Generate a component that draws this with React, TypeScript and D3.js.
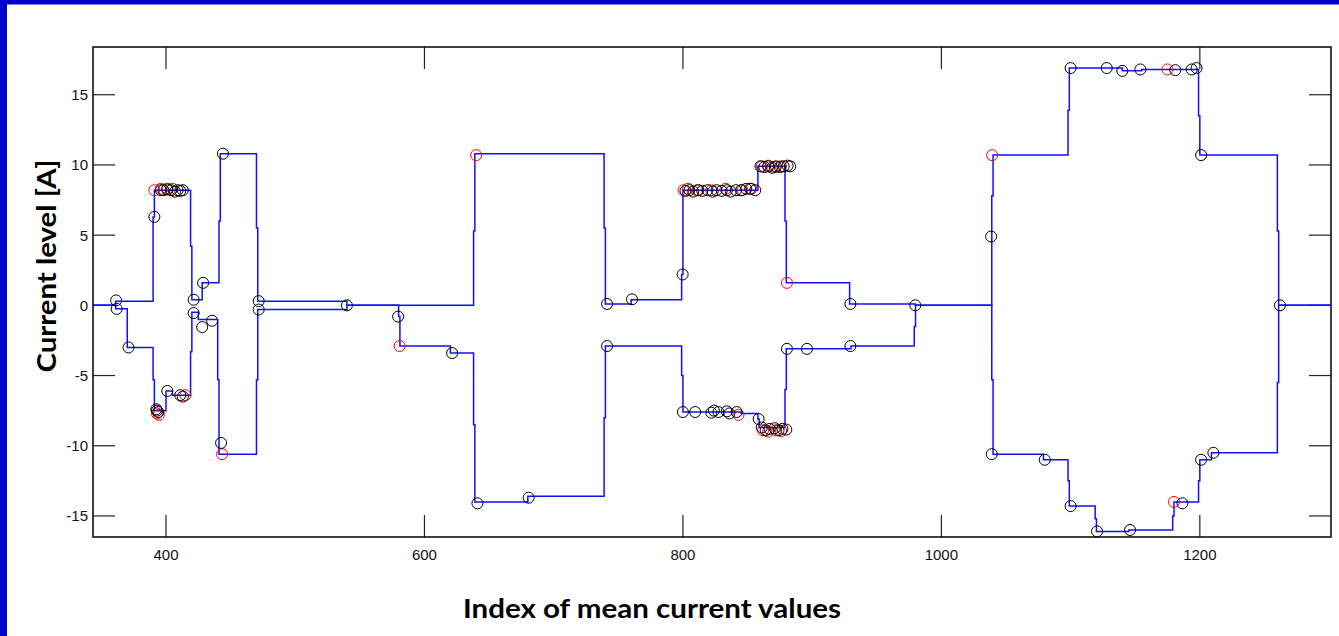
import React from "react";
import * as d3 from "d3";

// step traces (index, current) - upper and lower envelopes
const upperIdx = [343.5, 361, 390, 391, 419, 420, 428, 441, 442, 470, 471, 540, 638, 639, 739, 740, 760, 799, 800, 858, 879, 880, 929, 980, 1039, 1040, 1098, 1099, 1140, 1155, 1199, 1200, 1260, 1261, 1301.5];
const upperVal = [0, 0.3, 6.3, 8.2, 4.2, 0.4, 1.6, 6.0, 10.8, 5.5, 0.3, 0, 5.3, 10.8, 5.5, 0.1, 0.4, 2.2, 8.2, 9.9, 6.0, 1.6, 0.1, 0, 7.8, 10.7, 13.9, 16.9, 16.7, 16.8, 13.5, 10.7, 5.3, 0, 0];

const lowerIdx = [343.5, 361, 370, 390, 391, 400, 405, 419, 420, 425, 440, 441, 470, 471, 540, 580, 581, 620, 638, 639, 680, 739, 740, 799, 800, 845, 858, 859, 879, 880, 930, 979, 980, 1039, 1040, 1079, 1098, 1099, 1119, 1120, 1145, 1179, 1180, 1199, 1200, 1209, 1260, 1261, 1301.5];
const lowerVal = [0, -0.25, -3.0, -5.3, -7.5, -6.1, -6.4, -3.3, -0.5, -1.0, -5.3, -10.6, -5.3, -0.3, 0, -0.8, -2.9, -3.4, -8.5, -14.0, -13.6, -8.0, -2.9, -5.0, -7.6, -7.7, -8.1, -8.7, -6.0, -3.1, -2.9, -1.5, 0, -5.3, -10.6, -11.0, -12.5, -14.3, -15.2, -16.1, -16.0, -15.0, -14.0, -12.5, -11.0, -10.5, -5.5, 0, 0];

const blackPts: [number, number][] = [
  [361.4, 0.35], [361.8, -0.25], [371, -3.0], [391, 6.3],
  [393, -7.5], [394, -7.6], [392.5, -7.4],
  [396, 8.2], [398, 8.2], [401, 8.25], [404, 8.2], [407, 8.1], [409, 8.2], [411, 8.15], [413, 8.2],
  [401, -6.1], [411, -6.4], [413, -6.5],
  [421.4, 0.4], [421.4, -0.55], [428.7, 1.6], [428, -1.55], [435.7, -1.1], [442.6, -9.8], [444, 10.8],
  [471.7, 0.3], [471.7, -0.3], [540, 0], [579.6, -0.8], [621.4, -3.4], [641, -14.1], [680.6, -13.7],
  [741.3, 0.1], [760.6, 0.43], [799.8, 2.2], [741.3, -2.9],
  [802, 8.15], [805, 8.2], [808, 8.1], [812, 8.2], [815, 8.15], [819, 8.2], [823, 8.1], [826, 8.2],
  [830, 8.15], [834, 8.2], [837, 8.1], [841, 8.2], [845, 8.2], [849, 8.3], [852, 8.3], [856, 8.2],
  [860, 9.9], [863, 9.85], [866, 9.9], [869, 9.8], [872, 9.9], [875, 9.85], [878, 9.9], [881, 9.95], [883, 9.9],
  [800, -7.6], [809.5, -7.6], [822, -7.65], [824, -7.5], [827.5, -7.6], [834, -7.55], [836, -7.7], [841.6, -7.6],
  [858.6, -8.1],
  [861, -8.7], [864, -8.9], [867, -8.8], [871, -8.75], [874, -8.9], [877, -8.8], [880, -8.85],
  [880.5, -3.1], [896, -3.1], [929.6, -2.9], [929.6, 0.1], [979.8, 0],
  [1038.5, 4.9], [1039, -10.6], [1080, -11.0], [1100, 16.9], [1100, -14.3], [1120.5, -16.1], [1146, -16.0],
  [1128, 16.9], [1140, 16.7], [1154, 16.8], [1181, 16.75], [1193.7, 16.8], [1197.5, 16.9],
  [1186.5, -14.1], [1201, 10.7], [1201, -11.0], [1210.5, -10.5], [1262, 0],
];

const redPts: [number, number][] = [
  [391, 8.2], [396, 8.3], [401, 8.3], [405, 8.3], [393, -7.7], [394.5, -7.8], [415, -6.4],
  [443.4, -10.6], [580.8, -2.9], [640, 10.7],
  [800.5, 8.2], [804, 8.3], [811, 8.2], [822, 8.2], [833, 8.3], [846, 8.2], [853, 8.3],
  [861, 9.9], [866, 9.95], [871, 9.85], [876, 9.9],
  [843, -7.8], [862, -8.9], [866, -9.0], [872, -8.9], [876, -8.95],
  [880.5, 1.6], [1039.3, 10.7], [1175, 16.8], [1180, -14.0],
];

const xTicks = [400, 600, 800, 1000, 1200];
const yTicks = [-15, -10, -5, 0, 5, 10, 15];

export default function App() {
  const W = 1339, H = 636;
  const left = 93, right = 1331, top = 47, bottom = 537;
  const tickLen = 22;

  const x = d3.scaleLinear().domain([343.5, 1301.5]).range([left, right]);
  const y = d3.scaleLinear().domain([-16.5, 18.4]).range([bottom, top]);

  const line = d3.line<[number, number]>()
    .x(d => x(d[0]))
    .y(d => y(d[1]))
    .curve(d3.curveStepAfter);

  const upper = upperIdx.map((v, i) => [v, upperVal[i]] as [number, number]);
  const lower = lowerIdx.map((v, i) => [v, lowerVal[i]] as [number, number]);

  const tickFont = "'Liberation Sans', Arial, sans-serif";
  const labelFont = "Lato, 'Open Sans', sans-serif";

  return (
    <svg width={W} height={H} style={{ position: "absolute", left: 0, top: 0, display: "block", background: "#fff" }}>
      <rect x={0} y={0} width={W} height={H} fill="#fff" />
      <rect x={0} y={0} width={W} height={4.5} fill="#0000CC" />
      <rect x={0} y={0} width={7} height={H} fill="#0000CC" />

      {/* ticks, inward on all four sides */}
      <g stroke="#222" strokeWidth={1.2}>
        {xTicks.map(t => (
          <g key={"xt" + t}>
            <line x1={x(t)} x2={x(t)} y1={bottom} y2={bottom - tickLen} />
            <line x1={x(t)} x2={x(t)} y1={top} y2={top + tickLen} />
          </g>
        ))}
        {yTicks.map(t => (
          <g key={"yt" + t}>
            <line x1={left} x2={left + tickLen} y1={y(t)} y2={y(t)} />
            <line x1={right} x2={right - tickLen} y1={y(t)} y2={y(t)} />
          </g>
        ))}
      </g>

      <path d={line(upper) || ""} fill="none" stroke="#1010ff" strokeWidth={1.5} />
      <path d={line(lower) || ""} fill="none" stroke="#1010ff" strokeWidth={1.5} />

      {redPts.map((p, i) => (
        <circle key={"r" + i} cx={x(p[0])} cy={y(p[1])} r={5.5} fill="none" stroke="#ff0000" strokeWidth={1} />
      ))}
      {blackPts.map((p, i) => (
        <circle key={"b" + i} cx={x(p[0])} cy={y(p[1])} r={5.5} fill="none" stroke="#000" strokeWidth={1} />
      ))}

      <rect x={left} y={top} width={right - left} height={bottom - top} fill="none" stroke="#000" strokeWidth={1.5} />

      {xTicks.map(t => (
        <text key={"xl" + t} x={x(t)} y={560} textAnchor="middle" fontFamily={tickFont} fontSize={15} fill="#111">{t}</text>
      ))}
      {yTicks.map(t => (
        <text key={"yl" + t} x={left - 5} y={y(t) + 5.5} textAnchor="end" fontFamily={tickFont} fontSize={15} fill="#111">{t}</text>
      ))}

      <text x={652} y={618} textAnchor="middle" fontFamily={labelFont} fontWeight="bold" fontSize={26}
        textLength={378} lengthAdjust="spacingAndGlyphs" fill="#000">
        Index of mean current values
      </text>
      <text transform="translate(56,266) rotate(-90)" textAnchor="middle" fontFamily={labelFont} fontWeight="bold" fontSize={26}
        textLength={213} lengthAdjust="spacingAndGlyphs" fill="#000">
        Current level [A]
      </text>
    </svg>
  );
}
